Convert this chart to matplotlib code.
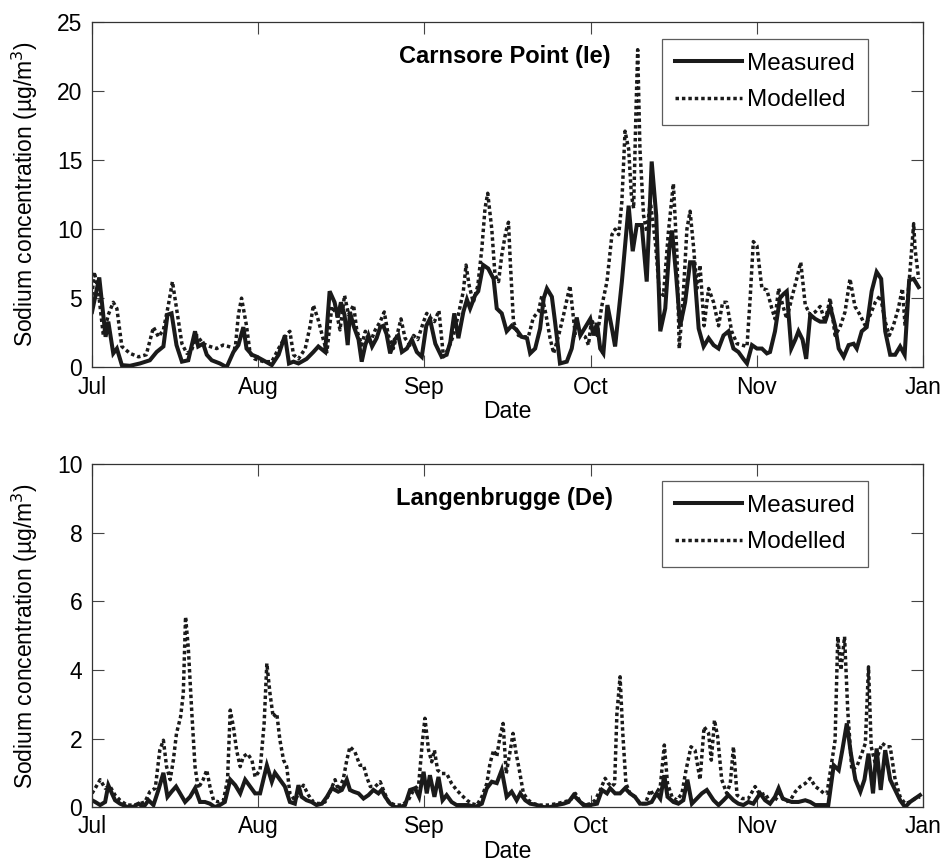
import matplotlib
matplotlib.use("Agg")
import matplotlib.pyplot as plt

plt.rcParams['font.family'] = ['Liberation Sans', 'DejaVu Sans']

# ---------------- data (day offset from 1 July, value) ----------------
# Top panel: Carnsore Point (Ie)
top_meas_day = [0, 1.6, 3, 3.6, 4.7, 5.5, 6.6, 8.4, 10.6, 12.8, 14.3, 15.8, 16.7, 17.6, 18.7, 19.9, 21.3, 22.8, 23.5, 24.6,
                25.4, 26.5, 28.3, 29.8, 31.3, 32.4, 33.5, 34.2, 35.4, 36.5, 37.9, 39.8, 41.3, 42.7, 43.6, 44.6, 45.7,
                47.5, 49, 50.1, 51.6, 52.6, 53.7, 54.4, 55.1, 55.9, 56.6, 57.1, 57.9, 59, 59.7, 60.5, 61.2, 62, 63, 63.8,
                64.5, 65.2, 66, 67, 67.8, 68.6, 69.7, 70.8, 71.9, 73, 74, 74.8, 76, 77.4, 78.5, 79.3, 80.2, 81.1, 82.2,
                83, 83.7, 84.8, 85.5, 86.6, 87.7, 88.9, 89.6, 90.7, 91.8, 92.9, 94, 95.1, 96.3, 97, 98.1, 99.2, 100,
                100.7, 101.8, 102.5, 103.6, 105.1, 106.2, 107.3, 108.1, 109.2, 110.3, 111, 111.8, 112.5, 113.2, 114.1,
                115.1, 115.8, 117.3, 118.8, 119.7, 120.6, 121.7, 122.8, 123.9, 124.9, 125.8, 126.9, 127.8, 128.4,
                129.3, 130.2, 131.3, 132.4, 133.2, 134.3, 135.4, 136.5, 137.6, 138.7, 139.8, 140.9, 142, 143.1, 144.2,
                145, 146.1, 147.2, 148.3, 149.4, 150.1, 151.2, 152.3, 153.1, 153.8, 154.8, 155.7, 156.4, 157.3, 158.1,
                159, 160.1, 161.2, 162.3, 163.4, 164.5, 165.3, 166.4, 167.5, 168.6, 169.3, 170.4, 171.5, 172.6, 173.7,
                174.7, 175.6, 176.7, 177.8, 178.9, 179.9, 180.9, 181.9, 183]
top_meas_val = [4.0, 6.5, 2.2, 3.3, 1.0, 1.35, 0.15, 0.1, 0.27, 0.5, 1.1, 1.5, 3.8, 3.9, 1.6, 0.4, 0.5, 2.6, 1.5, 1.7,
                0.9, 0.5, 0.27, 0.0, 1.1, 1.6, 2.9, 1.35, 0.9, 0.75, 0.5, 0.15, 0.9, 2.3, 0.27, 0.4, 0.27,
                0.6, 1.1, 1.5, 1.1, 5.5, 4.7, 3.6, 4.7, 3.8, 1.6, 4.0, 3.0, 2.0, 0.4, 1.6, 2.3, 1.5, 2.1, 2.9,
                3.0, 2.4, 1.0, 2.0, 2.3, 1.1, 1.35, 2.0, 1.1, 0.75, 3.0, 3.5, 1.7, 0.75, 0.9, 1.8, 3.9, 2.1, 4.0,
                4.9, 4.25, 5.2, 5.5, 7.4, 7.15, 6.4, 4.25, 3.9, 2.6, 3.0, 2.7, 2.2, 2.1, 1.0, 1.35, 2.8, 5.0,
                5.7, 5.1, 3.3, 0.27, 0.4, 1.35, 3.6, 2.3, 2.9, 3.5, 2.3, 3.2, 1.35, 1.0, 4.5,
                2.8, 1.5, 6.2, 11.7, 8.4, 10.3, 10.3, 6.2, 14.9, 11.0, 2.6, 4.25, 8.6, 9.9,
                6.7, 3.0, 4.7, 7.6, 7.6, 2.8, 1.5, 2.1, 1.6, 1.35, 2.3, 2.6, 1.35, 1.1, 0.6,
                0.27, 1.6, 1.35, 1.35, 1.0, 1.1, 2.6, 5.0, 5.3, 5.5, 1.35, 2.0, 2.6, 2.0, 0.6,
                3.8, 3.5, 3.3, 3.3, 4.4, 3.0, 1.35, 0.75, 1.6, 1.7, 1.35, 2.6, 2.9, 5.5, 6.9,
                6.4, 2.6, 0.9, 0.9, 1.5, 0.9, 6.3, 6.4, 5.8]

top_mod_day = [0, 0.5, 1.4, 2.5, 3.6, 4.7, 5.5, 6.6, 8.4, 10.3, 12, 13.6, 14.7, 15.8, 16.9, 17.8, 18.7, 19.9, 21, 22,
               23.2, 24.6, 26.1, 27.6, 29, 30.2, 31.7, 32.4, 33.1, 34.2, 35, 36, 38, 39.8, 41.3, 43.1, 43.8, 44.6,
               45.7, 47.2, 48.3, 49, 50.1, 51.2, 52, 53.1, 54.2, 54.9, 55.9, 56.8, 57.9, 58.6, 59.7, 60.5, 61.6,
               62.7, 63.8, 64.7, 65.6, 66.7, 67.5, 68.4, 69.3, 70.4, 71.2, 72.1, 73.4, 74.1, 74.8, 75.8, 76.8, 77.8,
               78.9, 80, 81.1, 82.2, 82.8, 83.5, 84.4, 85.4, 86.3, 87, 87.6, 88.5, 89.2, 90, 90.7, 91.6, 92.2, 92.6,
               93.3, 94.4, 95.5, 96.6, 97.7, 98.8, 99.6, 100.5, 101.4, 102.2, 103.3, 104.4, 105.8, 107, 108, 109.2,
               109.9, 110.6, 111.8, 112.9, 114, 115.1, 115.8, 116.6, 117.3, 118, 118.8, 119.4, 119.9, 120.4, 120.8,
               121.3, 122.1, 122.8, 123.6, 124.7, 125.6, 126.5, 127.6, 128.7, 129.5, 130, 130.8, 131.7, 132.4, 133.2,
               133.9, 134.6, 135.5, 136.5, 137.6, 138.7, 139.6, 140.5, 141.6, 142.8, 143.9, 145, 145.7, 146.4, 147.2,
               148.3, 149.4, 150.5, 151.2, 152, 152.9, 153.8, 154.9, 156, 156.9, 157.9, 159, 160.1, 161.2, 162.3,
               163.4, 164.5, 165.6, 166.7, 167.8, 168.9, 170, 171.2, 172.3, 173.4, 174.5, 175.6, 176.5, 177.4, 178.5,
               179.4, 180, 180.9, 181.9, 182.2, 183]
top_mod_val = [5.2, 6.9, 5.5, 2.3, 3.8, 4.7, 4.25, 1.5, 1.0, 0.75, 0.9, 2.9, 2.2, 2.7, 4.5, 6.2, 4.25, 1.7, 1.0, 1.2,
               2.3, 1.7, 1.5, 1.35, 1.6, 1.5, 1.35, 3.8, 5.0, 3.0, 1.0, 0.6, 0.4, 0.4, 1.35, 2.4, 2.6, 0.9,
               0.6, 1.35, 3.0, 4.5, 3.4, 2.0, 1.1, 4.4, 3.8, 2.7, 5.2, 3.8, 4.5, 2.7, 1.6, 2.6, 1.8,
               2.7, 3.3, 4.0, 2.3, 1.35, 2.3, 3.5, 2.1, 1.6, 2.3, 2.0, 3.3, 3.9, 3.6, 3.3, 4.1, 0.75,
               1.35, 2.3, 3.8, 5.5, 7.4, 5.9, 4.7, 5.9, 8.6, 11.5, 12.6, 10.0, 6.7, 6.2, 8.1, 9.8, 10.5, 7.6,
               3.3, 2.3, 2.2, 2.2, 3.6, 4.0, 5.2, 3.8, 2.1, 1.0, 2.3, 3.8, 5.9, 2.3, 2.4, 2.2,
               1.6, 3.5, 2.3, 4.5, 6.2, 9.6, 10.0, 9.6, 12.0, 17.1, 15.8, 12.5, 11.5, 18.3, 23.0,
               15.8, 11.0, 9.8, 12.0, 9.1, 5.5, 5.2, 9.8, 13.3, 8.1, 1.35, 4.7, 10.0, 11.3, 8.6,
               5.7, 7.4, 3.0, 5.7, 4.7, 3.0, 4.7, 4.7, 2.6, 1.7, 1.6, 1.5, 5.0, 9.1, 8.8,
               5.7, 5.6, 4.25, 3.5, 5.7, 4.5, 3.5, 5.0, 6.4, 7.6, 4.5, 3.8, 4.0, 4.4, 3.3,
               5.0, 2.3, 2.9, 4.0, 6.4, 4.4, 3.8, 3.0, 3.8, 4.7, 5.2, 3.3, 2.3, 3.0, 4.25,
               5.7, 3.0, 6.2, 10.4, 8.6, 6.4]

# Bottom panel: Langenbrugge (De)
bot_meas_day = [0, 0.7, 1.8, 2.9, 3.6, 4.4, 5.1, 6.2, 7.7, 9.2, 10.3, 11.4, 12.5, 13.6, 14.7, 15.8, 16.7, 17.6, 18.6,
                19.5, 20.6, 21.7, 22.8, 23.9, 25, 26.1, 27.2, 28.3, 29.4, 30.6, 31.7, 32.8, 33.9, 35, 36.1, 37.2, 38.7,
                39.8, 40.5, 41.6, 42.7, 43.8, 44.9, 45.7, 46.4, 47.5, 48.6, 49.7, 50.9, 52, 53.1, 53.8, 54.5, 55.3,
                56.4, 57.1, 57.9, 59, 60.1, 61.2, 62.3, 63.4, 64.1, 64.9, 66, 67.1, 68.2, 69.3, 70.4, 71.5, 72.4, 73.4,
                74.1, 74.8, 75.8, 76.7, 77.6, 78.5, 79.6, 80.7, 81.8, 83.3, 84.8, 86.3, 87.4, 88.5, 89.6, 90.7, 91.8,
                92.9, 94, 94.8, 95.9, 97, 98.5, 100, 101.4, 102.9, 104.4, 105.5, 106.6, 107.7, 108.8, 110.3, 111.8,
                112.9, 114, 114.7, 115.8, 116.9, 118, 119.1, 120.2, 121.3, 122.8, 123.9, 125, 125.8, 126.7, 127.4,
                128.7, 129.8, 130.9, 131.8, 132.8, 133.9, 135, 136.1, 137.6, 138.7, 139.8, 140.9, 142, 143.1, 144.2,
                145.3, 146.4, 147.9, 149, 150.1, 151.2, 152, 152.9, 153.8, 154.9, 156.4, 157.9, 159, 160.1, 161.2,
                162.3, 163, 164.2, 165.3, 166.1, 167.1, 168, 169, 170.1, 171, 171.9, 172.9, 173.7, 174.6, 175.6,
                176.7, 177.8, 178.9, 180, 181.1, 182.2, 183.3]
bot_meas_val = [0.2, 0.15, 0.06, 0.15, 0.64, 0.4, 0.2, 0.1, 0.01, 0.01, 0.1, 0.0, 0.2, 0.06, 0.5, 1.0, 0.3, 0.45, 0.6,
                0.4, 0.15, 0.3, 0.55, 0.15, 0.15, 0.1, 0.0, 0.06, 0.15, 0.8, 0.64, 0.4, 0.8, 0.6, 0.4, 0.4, 1.22,
                0.74, 1.0, 0.8, 0.6, 0.15, 0.1, 0.64, 0.3, 0.2, 0.15, 0.06, 0.1, 0.3, 0.55, 0.5, 0.45, 0.5,
                0.8, 0.5, 0.45, 0.4, 0.25, 0.35, 0.5, 0.4, 0.5, 0.3, 0.1, 0.0, 0.0, 0.06, 0.5, 0.55, 0.3, 1.03,
                0.4, 0.93, 0.3, 0.88, 0.2, 0.35, 0.15, 0.06, 0.06, 0.06, 0.0, 0.1, 0.55, 0.74, 0.7, 1.08, 0.3,
                0.45, 0.2, 0.4, 0.2, 0.1, 0.06, 0.0, 0.0, 0.06, 0.1, 0.15, 0.35, 0.2, 0.06, 0.06, 0.1,
                0.5, 0.4, 0.55, 0.4, 0.4, 0.55, 0.4, 0.3, 0.1, 0.1, 0.15, 0.4, 0.25, 0.93, 0.3,
                0.15, 0.1, 0.2, 0.8, 0.1, 0.25, 0.4, 0.5, 0.2, 0.06, 0.2, 0.35, 0.2, 0.1, 0.06,
                0.15, 0.1, 0.4, 0.2, 0.1, 0.3, 0.55, 0.25, 0.2, 0.15, 0.15, 0.2, 0.15, 0.06, 0.06,
                0.06, 0.06, 1.22, 1.08, 1.66, 2.44, 1.56, 0.8, 0.45, 0.8, 1.56, 0.4, 1.71, 0.5, 1.66,
                0.8, 0.5, 0.2, 0.0, 0.15, 0.25, 0.35]

bot_mod_day = [0, 0.7, 1.8, 2.9, 4, 5.1, 6.2, 7.7, 9.2, 10.6, 11.7, 12.8, 14, 15, 15.8, 16.5, 17.3, 18, 18.7, 19.6,
               20.2, 20.7, 21.3, 22.1, 22.8, 23.5, 24.6, 25.4, 26.1, 26.9, 28, 29.1, 30, 30.6, 31.3, 32, 32.8, 33.5,
               34.4, 35.4, 36.1, 37.2, 38.1, 38.7, 39.4, 40.1, 40.9, 41.6, 42.4, 43.1, 43.8, 44.9, 45.8, 46.8, 47.9,
               49, 50.1, 51.6, 52.7, 53.8, 54.5, 55.6, 56.4, 57.1, 58.2, 59.3, 60.1, 60.8, 61.6, 62.7, 63.8, 64.5,
               65.6, 67.1, 68.6, 70, 71.2, 72.3, 73.1, 73.7, 74.5, 75.2, 75.8, 76.5, 77.4, 78.5, 79.6, 80.7, 81.8,
               83, 84.1, 85.2, 86.3, 87.4, 88.1, 88.9, 89.6, 90.3, 91, 91.7, 92.6, 93.2, 93.9, 94.6, 95.5, 96.6, 97.7,
               99.2, 101, 102.9, 104.4, 105.9, 107, 108.1, 109.2, 110.3, 111.4, 112.5, 113.6, 114.3, 115.1, 115.7,
               116.2, 116.9, 117.5, 118.2, 119.1, 120.2, 121.4, 122.5, 123.6, 124.5, 125.8, 126.7, 127.4, 128.4,
               129.5, 130.6, 131.5, 132.6, 133.5, 134.6, 135.5, 136.5, 137.1, 137.8, 138.5, 139.4, 140.5, 141.3, 142,
               142.8, 143.9, 145.3, 146.8, 147.9, 149, 150.1, 151.2, 152.3, 153.5, 154.6, 155.7, 156.8, 157.9, 159,
               160.1, 161.2, 162, 162.7, 163.6, 164.5, 165.1, 165.8, 166.6, 167.3, 168.2, 169.3, 170.4, 171.2,
               171.9, 172.5, 173.4, 174.1, 174.9, 176, 176.7, 177.8, 178.9, 180, 181.1, 182.2, 183.3]
bot_mod_val = [0.4, 0.55, 0.8, 0.55, 0.6, 0.35, 0.2, 0.06, 0.06, 0.1, 0.15, 0.45, 0.55, 1.66, 1.95, 1.18, 0.8, 1.37,
               2.15, 2.63, 3.3, 5.55, 4.67, 2.73, 1.18, 0.55, 0.8, 1.08, 0.6, 0.2, 0.15, 0.2, 0.8, 2.83, 2.34, 1.66,
               1.18, 1.47, 1.56, 1.37, 0.88, 1.08, 2.44, 4.19, 3.31, 2.63, 2.73, 1.95, 1.37, 1.18, 0.4, 0.2, 0.4,
               0.64, 0.35, 0.15, 0.1, 0.15, 0.45, 0.8, 0.5, 0.8, 1.37, 1.76, 1.61, 1.22, 1.22, 0.88, 0.6, 0.6,
               0.74, 0.5, 0.15, 0.06, 0.06, 0.2, 0.5, 0.64, 1.86, 2.59, 1.66, 1.32, 1.66, 1.08, 0.98, 0.98,
               0.69, 0.5, 0.35, 0.2, 0.1, 0.06, 0.3, 0.69, 1.27, 1.66, 1.47, 2.05, 2.44, 0.98, 1.66, 2.15, 1.56,
               1.08, 0.4, 0.2, 0.1, 0.06, 0.06, 0.1, 0.15, 0.2, 0.4, 0.15, 0.06, 0.1, 0.2, 0.5, 0.84, 0.69,
               0.6, 0.69, 2.73, 3.8, 2.15, 0.69, 0.4, 0.3, 0.1, 0.1, 0.5, 0.3, 0.6, 1.81, 0.69, 0.3, 0.2,
               0.4, 1.08, 1.76, 1.66, 0.8, 2.34, 2.15, 1.37, 2.54, 2.05, 0.8, 0.4, 0.69, 1.76, 0.35, 0.25,
               0.25, 0.6, 0.35, 0.4, 0.15, 0.2, 0.4, 0.15, 0.2, 0.45, 0.6, 0.69, 0.84, 0.6, 0.5, 0.4,
               0.4, 1.18, 1.95, 4.97, 4.0, 4.97, 2.83, 1.08, 1.18, 1.56, 1.86, 4.09, 1.76, 1.27, 1.56,
               1.86, 1.76, 1.76, 0.8, 0.3, 0.1, 0.15, 0.25, 0.3]

tick_labels = ['Jul', 'Aug', 'Sep', 'Oct', 'Nov', 'Jan']
n_days = 184
titles = ['Carnsore Point (Ie)', 'Langenbrugge (De)']
ylims = [25, 10]
ysteps = [5, 2]
series_names = ['Measured', 'Modelled']

# ---------------- figure ----------------
fig = plt.figure(figsize=(9.42, 8.66), dpi=100)
ax_pos = [[0.0977, 0.576, 0.8823, 0.3985], [0.0977, 0.068, 0.8823, 0.396]]
panels = [(top_meas_day, top_meas_val, top_mod_day, top_mod_val),
          (bot_meas_day, bot_meas_val, bot_mod_day, bot_mod_val)]

for i, (md, mv, pd_, pv) in enumerate(panels):
    ax = fig.add_axes(ax_pos[i])
    ax.plot(md, mv, color='#1a1a1a', lw=2.9, solid_joinstyle='miter', label=series_names[0])
    ax.plot(pd_, pv, color='#1a1a1a', lw=2.5, linestyle=(0, (1.0, 0.85)), label=series_names[1])
    ax.set_xlim(0, n_days)
    ax.set_ylim(0, ylims[i])
    ticks = [n_days * k / 5 for k in range(6)]
    ax.set_xticks(ticks)
    ax.set_xticklabels(tick_labels)
    ax.set_yticks(range(0, ylims[i] + 1, ysteps[i]))
    ax.tick_params(axis='both', direction='in', length=8.5, width=0.8, top=True, right=True,
                   labelsize=16.5, colors='#444444', labelcolor='black')
    ax.tick_params(axis='x', pad=6)
    ax.tick_params(axis='y', pad=7)
    for s in ax.spines.values():
        s.set_linewidth(0.9)
        s.set_color('#333333')
    ax.set_xlabel('Date', fontsize=16.5, labelpad=1)
    ax.set_ylabel('Sodium concentration (µg/m$^3$)', fontsize=16.5, labelpad=12)
    ax.text(0.496, 0.90, titles[i], transform=ax.transAxes, ha='center', va='center',
            fontsize=17, fontweight='bold')
    leg = ax.legend(loc='upper right', bbox_to_anchor=(0.934, 0.95), fontsize=17.5,
                    frameon=True, fancybox=False, edgecolor='#333333', handlelength=2.75,
                    borderpad=0.55, labelspacing=0.6, handletextpad=0.2, borderaxespad=0)
    leg.get_frame().set_linewidth(0.9)

fig.savefig('out.png', dpi=100)
